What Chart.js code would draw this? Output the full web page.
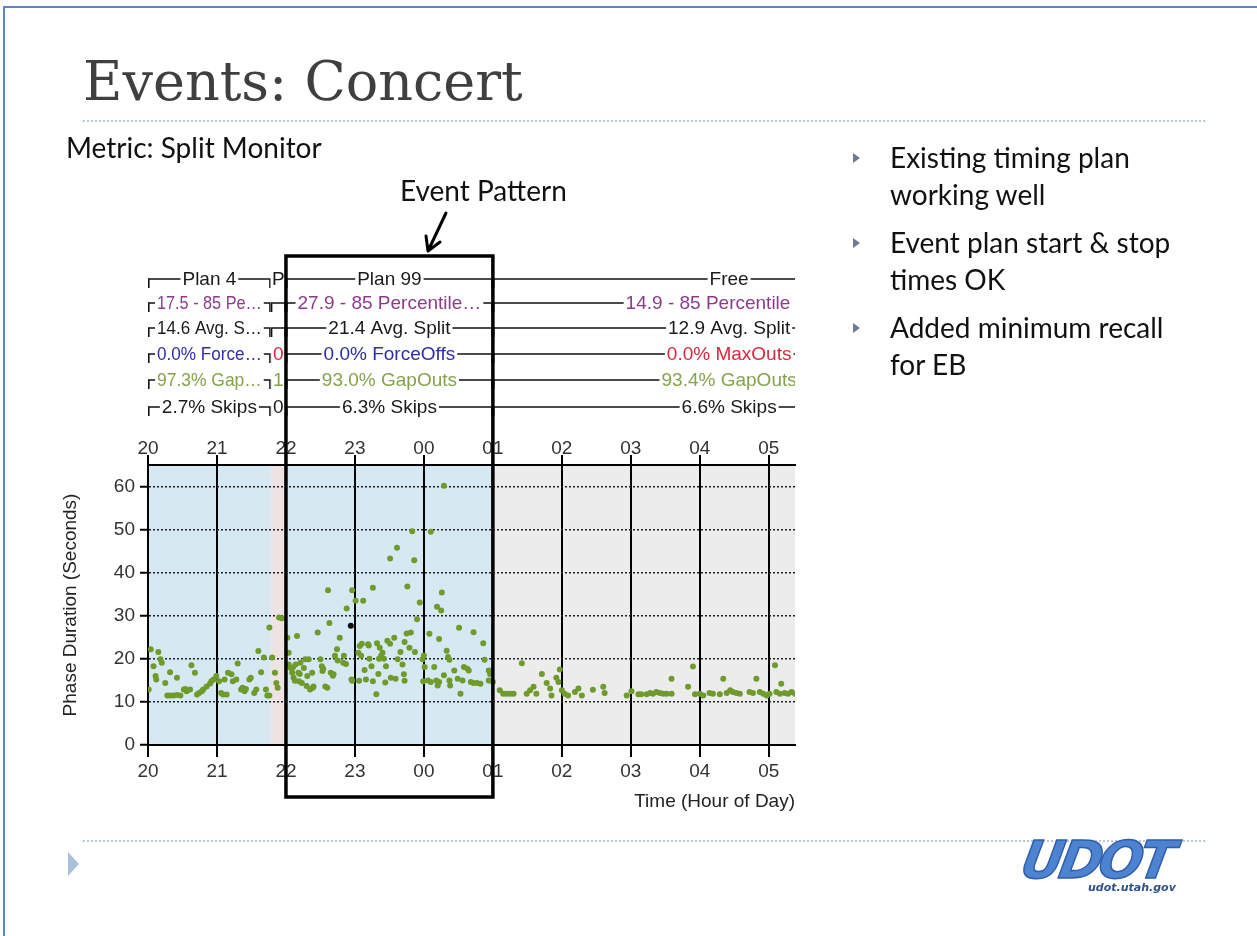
<!DOCTYPE html>
<html lang="en">
<head>
<meta charset="UTF-8">
<title>Events: Concert</title>
<script src="https://cdn.jsdelivr.net/npm/chart.js"></script>
<style>
  html, body { margin: 0; padding: 0; background: #fff; }
  body { width: 1257px; height: 936px; position: relative; overflow: hidden; font-family: Lato, "Open Sans", sans-serif; }
  .frame-top { position: absolute; left: 3px; top: 6px; width: 1254px; height: 2px; background: #5b84c9; }
  .frame-left { position: absolute; left: 3px; top: 6px; width: 2px; height: 930px; background: #5b84c9; }
  #chartBox { position: absolute; left: 0; top: 0; width: 1257px; height: 936px; }
  .txt { position: absolute; white-space: nowrap; z-index: 2; }
  .title { left: 83px; top: 55px; font: 54px/1 "DejaVu Serif", serif; color: #3f3f3f; }
  .rule { position: absolute; left: 83px; width: 1122px; height: 0; border-top: 2px dotted #b9c6d8; }
  .metric { left: 66px; top: 133px; font: 28px/1 Lato, sans-serif; color: #111; }
  .event { left: 400px; top: 176px; font: 28px/1 Lato, sans-serif; color: #111; }
  .bullets { position: absolute; left: 890px; top: 139px; font: 28px/37px Lato, sans-serif; color: #111; z-index: 2; }
  .bullets div { margin-bottom: 11px; position: relative; }
  .bullets div::before { content: ""; position: absolute; left: -37px; top: 14px; border-left: 7px solid #6d7b96; border-top: 5px solid transparent; border-bottom: 5px solid transparent; }
  .footer-tri { position: absolute; left: 68px; top: 852px; border-left: 11px solid #a9bfdc; border-top: 12px solid transparent; border-bottom: 12px solid transparent; }
  .logo { left: 1022px; top: 834px; font: italic 900 52px/1 "DejaVu Sans", sans-serif; color: #4d83d1; -webkit-text-stroke: 1.5px #2e5ea8; letter-spacing: -4px; transform: skewX(-10deg); }
  .logo-url { left: 1088px; top: 882px; font: italic bold 11px/1 "DejaVu Sans", sans-serif; color: #2c4f8c; }
</style>
</head>
<body>

<div class="frame-top"></div>
<div class="frame-left"></div>

<div class="txt title">Events: Concert</div>
<div class="rule" style="top:120px"></div>
<div class="txt metric">Metric: Split Monitor</div>
<div class="txt event">Event Pattern</div>

<div class="bullets">
  <div>Existing timing plan<br>working well</div>
  <div>Event plan start &amp; stop<br>times OK</div>
  <div>Added minimum recall<br>for EB</div>
</div>

<div class="rule" style="top:840px"></div>
<div class="footer-tri"></div>
<div class="txt logo">UDOT</div>
<div class="txt logo-url">udot.utah.gov</div>

<div id="chartBox"><canvas id="splitChart"></canvas></div>

<script>
// axis ticks (hours after midnight continue past 24)
const xTickHours = [20, 21, 22, 23, 24, 25, 26, 27, 28, 29];
const xTickLabels = ['20', '21', '22', '23', '00', '01', '02', '03', '04', '05'];
const yTickValues = [0, 10, 20, 30, 40, 50, 60];

// timing plans
const planNames  = ['Plan 4', 'P', 'Plan 99', 'Free'];
const planStart  = [20, 21.78, 22, 25];
const planEnd    = [21.78, 22, 25, 31.85];
const pctLabels  = ['17.5 - 85 Pe…', '', '27.9 - 85 Percentile…', '14.9 - 85 Percentile Split'];
const avgLabels  = ['14.6 Avg. S…', '', '21.4 Avg. Split', '12.9 Avg. Split'];
const termLabels = ['0.0% Force…', '0', '0.0% ForceOffs', '0.0% MaxOuts'];
const termColors = ['#2d2da8', '#d8283c', '#2d2da8', '#d8283c'];
const gapLabels  = ['97.3% Gap…', '1', '93.0% GapOuts', '93.4% GapOuts'];
const skipLabels = ['2.7% Skips', '0', '6.3% Skips', '6.6% Skips'];
const planShade  = ['#d6e8f1', '#eee3e3', '#d6e8f1', '#ececec'];

// highlighted event window
const eventStart = 22;
const eventEnd = 25;

// phase durations [hour, seconds]
const eveningPoints = [
  [20.01,12.9],[20.04,22.2],[20.08,18.3],[20.11,16.0],[20.12,15.2],[20.15,21.6],[20.18,19.9],[20.20,19.1],
  [20.25,14.4],[20.28,11.5],[20.32,11.5],[20.32,16.9],[20.37,11.5],[20.42,11.6],[20.42,15.6],[20.47,11.5],
  [20.52,12.9],[20.54,13.0],[20.56,12.5],[20.61,12.9],[20.63,18.5],[20.68,16.8],[20.71,11.7],[20.74,12.1],
  [20.78,12.5],[20.80,12.9],[20.85,13.6],[20.90,14.3],[20.92,14.8],[20.95,15.2],[20.99,16.0],
  [21.03,14.8],[21.06,12.1],[21.09,11.7],[21.11,15.2],[21.14,11.7],[21.16,16.8],[21.21,16.4],[21.23,14.8],
  [21.28,15.2],[21.30,18.9],[21.35,12.9],[21.37,13.3],[21.40,12.5],[21.42,13.0],[21.47,15.2],[21.49,15.6],
  [21.54,12.1],[21.57,12.9],[21.60,21.8],[21.64,16.9],[21.68,20.3],[21.71,12.9],[21.73,11.5],[21.76,11.5],
  [21.76,27.3],[21.80,20.3],[21.84,16.8],[21.86,14.4],[21.88,13.3],[21.90,29.6],[21.94,29.4]
];
const eventPoints = [
  [22.02,24.9],[22.04,21.4],[22.04,18.7],[22.07,17.9],[22.09,16.8],[22.10,18.0],[22.11,15.6],[22.13,14.9],
  [22.14,18.7],[22.16,25.3],[22.18,16.8],[22.19,14.8],[22.20,16.5],[22.21,19.1],[22.23,14.4],[22.26,17.9],
  [22.28,19.9],[22.30,13.7],[22.31,16.0],[22.33,19.9],[22.35,12.9],[22.38,16.8],[22.39,13.3],[22.40,13.6],
  [22.46,26.1],[22.50,19.9],[22.52,18.3],[22.53,17.2],[22.54,17.7],[22.57,13.6],[22.60,13.3],[22.61,35.9],
  [22.63,28.3],[22.65,16.8],[22.68,16.1],[22.69,16.4],[22.71,20.7],[22.74,22.2],[22.75,19.6],[22.78,24.9],
  [22.83,19.1],[22.84,20.7],[22.87,18.8],[22.88,31.7],[22.95,15.2],[22.96,35.9],[22.96,14.9],
  [23.01,33.5],[23.05,21.4],[23.06,14.9],[23.07,23.0],[23.09,20.7],[23.10,23.5],[23.12,33.5],[23.14,17.4],
  [23.16,15.2],[23.19,23.4],[23.20,23.1],[23.21,20.0],[23.24,18.3],[23.26,36.5],[23.26,14.8],[23.31,11.8],
  [23.32,23.6],[23.34,16.5],[23.35,20.0],[23.36,22.6],[23.38,20.7],[23.40,21.4],[23.42,20.0],[23.44,14.5],
  [23.45,18.3],[23.47,24.2],[23.51,43.3],[23.51,23.5],[23.52,15.6],[23.57,24.9],[23.59,15.4],[23.61,45.8],
  [23.62,19.9],[23.66,21.6],[23.69,18.7],[23.71,16.4],[23.72,23.9],[23.72,14.9],[23.75,25.9],[23.76,36.8],
  [23.79,22.6],[23.81,26.1],[23.83,49.6],[23.86,42.9],[23.87,21.6],[23.90,29.2],[23.94,33.1],[23.98,19.9],
  [23.99,14.8],
  [24.00,20.8],[24.01,18.1],[24.06,15.0],[24.08,25.8],[24.10,49.5],[24.10,14.6],[24.15,18.1],[24.18,15.0],
  [24.19,32.1],[24.20,13.8],[24.22,24.6],[24.22,14.6],[24.25,31.2],[24.26,35.4],[24.29,60.2],[24.29,16.2],
  [24.33,21.9],[24.35,20.4],[24.37,19.8],[24.37,15.0],[24.38,13.8],[24.44,17.3],[24.49,15.4],[24.51,27.2],
  [24.53,11.9],[24.56,15.0],[24.58,18.1],[24.63,17.7],[24.65,17.3],[24.68,14.6],[24.72,26.2],[24.72,14.4],
  [24.77,14.4],[24.82,14.2],[24.86,23.6],[24.88,19.8],[24.94,17.3],[24.94,15.0]
];
const freePoints = [
  [24.96,16.5],[25.00,14.6],[25.10,12.7],[25.15,11.9],[25.20,11.9],[25.25,11.9],[25.30,11.9],[25.42,19.0],
  [25.49,11.9],[25.54,12.7],[25.59,13.5],[25.63,11.9],[25.71,16.5],[25.78,14.4],[25.83,13.1],[25.85,11.5],
  [25.92,15.6],[25.95,14.6],[25.97,17.5],[26.00,12.7],[26.04,11.9],[26.09,11.5],[26.19,12.3],[26.24,13.1],
  [26.29,11.5],[26.45,12.8],[26.60,13.5],[26.62,12.1],[26.94,11.5],[27.01,12.5],[27.11,11.8],[27.15,11.8],
  [27.23,11.8],[27.28,12.1],[27.32,11.9],[27.37,12.3],[27.42,12.1],[27.47,11.9],[27.52,11.9],[27.59,11.9],
  [27.59,15.4],[27.83,13.5],[27.90,18.2],[27.93,11.8],[28.00,11.9],[28.05,11.5],[28.14,12.1],[28.19,11.9],
  [28.29,11.8],[28.34,15.4],[28.39,12.1],[28.44,12.7],[28.48,12.3],[28.53,12.1],[28.58,11.9],[28.72,12.3],
  [28.77,12.1],[28.82,15.4],[28.87,12.3],[28.92,11.9],[28.97,11.5],[29.01,11.9],[29.09,18.5],[29.11,12.3],
  [29.16,11.9],[29.18,14.2],[29.23,12.1],[29.28,11.9],[29.33,12.3],[29.38,11.9]
];
const otherPoints = [[22.94, 27.7]];

const toXY = pts => pts.map(p => ({ x: p[0], y: p[1] }));
const tickFont = { family: '"Liberation Sans", Arial, sans-serif', size: 19 };

// plan shading behind the plot
const shadePlugin = {
  id: 'shade',
  beforeDraw(chart) {
    const { ctx, chartArea: a, scales: { x } } = chart;
    ctx.save();
    planStart.forEach((s, i) => {
      const x0 = Math.max(x.getPixelForValue(s), a.left);
      const x1 = Math.min(x.getPixelForValue(planEnd[i]), a.right);
      ctx.fillStyle = planShade[i];
      ctx.fillRect(x0, a.top, x1 - x0, a.bottom - a.top);
    });
    ctx.restore();
  }
};

// plan statistics rows above the plot, event box and arrow
const planPlugin = {
  id: 'plans',
  afterDraw(chart) {
    const { ctx, chartArea: a, scales: { x } } = chart;
    const rows = [
      [planNames, '#1a1a1a'], [pctLabels, '#8c3b8c'], [avgLabels, '#1a1a1a'],
      [termLabels, null], [gapLabels, '#86a24c'], [skipLabels, '#1a1a1a']
    ];
    const rowY = [279, 303, 328, 354, 380, 407];
    ctx.save();
    ctx.font = '19px "Liberation Sans", Arial, sans-serif';
    ctx.textAlign = 'center';
    ctx.textBaseline = 'middle';
    rows.forEach(([labels, color], r) => {
      const y = rowY[r];
      planStart.forEach((s, i) => {
        const x0 = x.getPixelForValue(s);
        const xe = x.getPixelForValue(planEnd[i]);
        const x1 = Math.min(xe, a.right);
        ctx.save();
        ctx.beginPath();
        ctx.rect(x0, y - 14, x1 - x0, 28);
        ctx.clip();
        ctx.strokeStyle = '#111';
        ctx.lineWidth = 1.6;
        ctx.beginPath();
        ctx.moveTo(x0, y); ctx.lineTo(x1, y);
        ctx.moveTo(x0 + 0.8, y); ctx.lineTo(x0 + 0.8, y + 9);
        if (xe <= a.right) { ctx.moveTo(x1 - 0.8, y); ctx.lineTo(x1 - 0.8, y + 9); }
        ctx.stroke();
        const label = labels[i];
        if (label) {
          const cx = (x0 + xe) / 2;
          const room = xe - x0 > 60 ? xe - x0 - 18 : 200;
          const w = Math.min(ctx.measureText(label).width, room);
          ctx.fillStyle = '#fff';
          ctx.fillRect(cx - w / 2 - 2, y - 10, w + 4, 20);
          ctx.fillStyle = color || termColors[i];
          ctx.fillText(label, cx, y + 1, room);
        }
        ctx.restore();
      });
    });

    // event pattern box
    const bx0 = x.getPixelForValue(eventStart);
    const bx1 = x.getPixelForValue(eventEnd);
    ctx.strokeStyle = '#000';
    ctx.lineWidth = 3.5;
    ctx.strokeRect(bx0, 256, bx1 - bx0, 541);

    // arrow from label to box
    ctx.lineWidth = 3;
    ctx.lineCap = 'round';
    ctx.beginPath();
    ctx.moveTo(446, 213); ctx.lineTo(428, 251);
    ctx.moveTo(428, 251); ctx.lineTo(426, 236);
    ctx.moveTo(428, 251); ctx.lineTo(440, 242);
    ctx.stroke();
    ctx.restore();
  }
};

const xTicks = {
  font: tickFont, color: '#333', padding: 3, maxRotation: 0, autoSkip: false,
  callback: v => xTickLabels[xTickHours.indexOf(v)]
};

new Chart(document.getElementById('splitChart'), {
  type: 'scatter',
  data: {
    datasets: [
      { label: 'Phase', data: toXY(eveningPoints.concat(eventPoints, freePoints)), backgroundColor: '#6e9b2c', borderWidth: 0, pointRadius: 3 },
      { label: 'Other', data: toXY(otherPoints), backgroundColor: '#111', borderWidth: 0, pointRadius: 3 }
    ]
  },
  options: {
    responsive: true,
    maintainAspectRatio: false,
    animation: false,
    layout: { padding: { left: 55, right: 462, top: 420, bottom: 119 } },
    plugins: { legend: { display: false }, tooltip: { enabled: false } },
    scales: {
      x: {
        type: 'linear', position: 'bottom', min: 20, max: 29.38,
        afterBuildTicks: s => { s.ticks = xTickHours.map(v => ({ value: v })); },
        afterFit: s => { s.height = 72; },
        ticks: xTicks,
        grid: { color: '#000', lineWidth: 2, tickLength: 12 },
        border: { display: true, color: '#000', width: 2 },
        title: { display: true, text: 'Time (Hour of Day)', align: 'end', color: '#222', font: tickFont, padding: { top: 4, bottom: 4 } }
      },
      x2: {
        type: 'linear', axis: 'x', position: 'top', min: 20, max: 29.38,
        afterBuildTicks: s => { s.ticks = xTickHours.map(v => ({ value: v })); },
        afterFit: s => { s.height = 45; },
        ticks: Object.assign({}, xTicks, { padding: -5 }),
        grid: { drawOnChartArea: false, color: '#000', lineWidth: 2, tickLength: 10 },
        border: { display: true, color: '#000', width: 2 }
      },
      y: {
        min: 0, max: 65,
        afterBuildTicks: s => { s.ticks = yTickValues.map(v => ({ value: v })); },
        afterFit: s => { s.width = 93; },
        ticks: { font: tickFont, color: '#333', padding: 5 },
        grid: { color: '#222', lineWidth: 1.5, tickLength: 8, tickColor: '#000', tickWidth: 2, tickBorderDash: [] },
        border: { display: true, color: '#000', width: 2, dash: [2, 2] },
        title: { display: true, text: 'Phase Duration (Seconds)', color: '#222', font: tickFont, padding: { top: 4, bottom: 4 } }
      }
    }
  },
  plugins: [shadePlugin, planPlugin]
});
</script>
</body>
</html>
